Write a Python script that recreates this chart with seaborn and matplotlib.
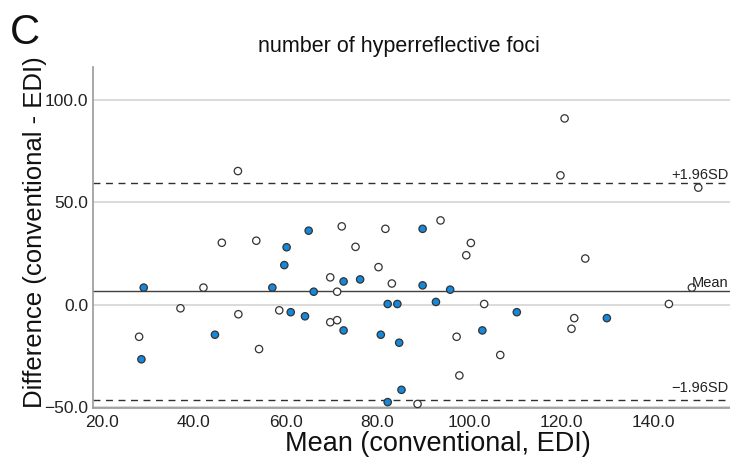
import pandas as pd
import numpy as np
import seaborn as sns
import matplotlib.pyplot as plt

# puntos abiertos (blancos)
open_x = [49.6, 46.1, 53.6, 72.2, 75.2, 81.7, 93.7, 100.3, 99.3, 120.7, 119.8, 149.8,
          125.2, 42.1, 37.1, 49.7, 58.6, 28.1, 54.2, 80.2, 69.7, 83.1, 71.2, 103.2,
          69.7, 71.2, 97.2, 106.7, 97.8, 88.7, 148.4, 143.4, 122.8, 122.2]
open_y = [65.2, 30.2, 31.2, 38.2, 28.2, 37.0, 41.1, 30.1, 24.1, 90.9, 63.1, 57.1,
          22.5, 8.3, -1.8, -4.7, -2.8, -15.7, -21.7, 18.3, 13.3, 10.3, 6.3, 0.3,
          -8.6, -7.6, -15.7, -24.6, -34.6, -48.5, 8.3, 0.3, -6.6, -11.8]
# puntos azules
blue_x = [60.2, 65.0, 89.8, 59.7, 29.1, 57.1, 61.1, 64.2, 44.6, 28.6, 72.6, 76.2, 89.8,
          66.1, 95.8, 82.2, 84.3, 92.7, 110.3, 72.6, 80.7, 84.7, 102.8, 85.2, 82.2, 129.9]
blue_y = [28.0, 36.1, 37.0, 19.3, 8.3, 8.3, -3.7, -5.7, -14.7, -26.7, 11.3, 12.3, 9.4,
          6.3, 7.3, 0.3, 0.3, 1.3, -3.7, -12.6, -14.7, -18.6, -12.6, -41.6, -47.6, -6.6]

mean_diff = 6.6
upper_loa = 59.6
lower_loa = -46.4

y_ticks = [-50, 0, 50, 100]
x_ticks = [20, 40, 60, 80, 100, 120, 140]

df = pd.DataFrame({
    "mean": open_x + blue_x,
    "diff": open_y + blue_y,
    "group": ["open"] * len(open_x) + ["blue"] * len(blue_x),
})

sns.set_style("white")
plt.rcParams["font.family"] = ["Liberation Sans", "DejaVu Sans"]

fig = plt.figure(figsize=(7.3, 4.59), dpi=100)
ax = fig.add_axes([0.127, 0.111, 0.873, 0.743])

for v in y_ticks:
    ax.axhline(v, color="#d4d4d4", lw=1.2, zorder=0)

ax.axhline(mean_diff, color="#404040", lw=1.0, zorder=1)
ax.axhline(upper_loa, color="#303030", lw=1.0, ls=(0, (5, 4)), zorder=1)
ax.axhline(lower_loa, color="#303030", lw=1.0, ls=(0, (5, 4)), zorder=1)

sns.scatterplot(data=df, x="mean", y="diff", hue="group",
                palette={"open": "white", "blue": "#1488dc"},
                s=28, edgecolor="#333333", linewidth=0.9, legend=False,
                ax=ax, zorder=3, clip_on=False)

ax.set_xlim(18, 156.7)
ax.set_ylim(-50.5, 116)
ax.set_xticks(x_ticks)
ax.set_xticklabels([f"{v:.1f}" for v in x_ticks])
ax.set_yticks(y_ticks)
ax.set_yticklabels([f"{v:.1f}".replace("-", "\u2212") for v in y_ticks])
ax.tick_params(axis="y", length=0, labelsize=12.5, colors="#222222", pad=3)
ax.tick_params(axis="x", length=0, labelsize=12.5, colors="#222222", pad=5)

for s in ["top", "right"]:
    ax.spines[s].set_visible(False)
for s in ["left", "bottom"]:
    ax.spines[s].set_color("#999999")
    ax.spines[s].set_linewidth(1.2)

ax.set_xlabel("Mean (conventional, EDI)", fontsize=19.5, color="#111111")
ax.xaxis.set_label_coords(0.541, -0.066)
ax.set_ylabel("Difference (conventional - EDI)", fontsize=18.5, color="#111111")
ax.yaxis.set_label_coords(-0.072, 0.515)
ax.set_title("number of hyperreflective foci", fontsize=15.5, color="#111111", pad=11, x=0.48)

ax.text(156.3, upper_loa + 0.5, "+1.96SD", ha="right", va="bottom", fontsize=10.5, color="#222222")
ax.text(156.3, mean_diff + 0.5, "Mean", ha="right", va="bottom", fontsize=10.5, color="#222222")
ax.text(156.3, lower_loa + 2.5, "\u22121.96SD", ha="right", va="bottom", fontsize=10.5, color="#222222")

fig.text(0.013, 0.905, "C", fontsize=30, color="#111111")

fig.savefig("out.png", dpi=100)
